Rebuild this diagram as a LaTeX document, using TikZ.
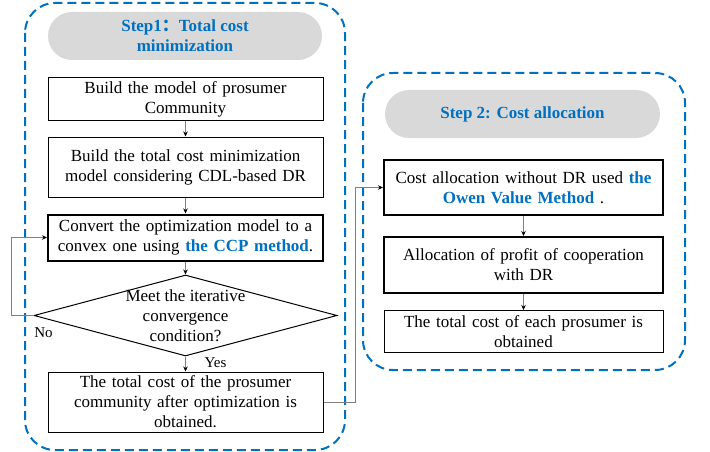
\documentclass[tikz,border=0pt]{standalone}
\usepackage{fontspec}
\setmainfont{Liberation Serif}
\newfontfamily\cjk{Noto Sans CJK SC}
\usepackage{xcolor}
\usetikzlibrary{shapes}
\usetikzlibrary{shapes.geometric}
\usetikzlibrary{arrows.meta}
\usetikzlibrary{positioning}

\definecolor{stepblue}{RGB}{0,112,192}
\definecolor{pillgray}{RGB}{217,217,217}
\newcommand{\bluebf}[1]{\textcolor{stepblue}{\textbf{#1}}}

\begin{document}
\begin{tikzpicture}[x=1pt, y=-1pt,
  font=\fontsize{17}{20}\selectfont,
  frame/.style={draw=stepblue, line width=2pt, dash pattern=on 9pt off 5pt, rounded corners=30pt},
  pill/.style={fill=pillgray, rounded corners=24pt, minimum height=48pt, text=stepblue,
    font=\fontsize{17}{20}\selectfont\bfseries, align=center},
  box/.style={draw, line width=1pt, minimum width=275pt, text width=270pt, align=center, inner sep=2pt},
  thickbox/.style={box, line width=2pt},
  link/.style={draw=gray, line width=0.8pt, -{Stealth[black,length=5pt,width=4.5pt]}},
  tag/.style={font=\fontsize{15}{18}\selectfont}]
  \useasboundingbox (0,0) rectangle (710,452);

  % step 1
  \draw[frame] (25,3) rectangle (345,450);
  \node[pill, minimum width=274pt] (s1) at (185,36) {Step1{\cjk ：}Total cost\\minimization};
  \node[box, minimum height=42pt] (b1) at (185.5,99) {Build the model of prosumer\\Community};
  \node[box, minimum height=60pt, below=16pt of b1] (b2) {Build the total cost minimization\\model considering CDL-based DR};
  \node[thickbox, minimum height=46pt, below=16pt of b2] (b3) {Convert the optimization model to a\\convex one using \bluebf{the CCP method}.};
  \node[diamond, draw, line width=1pt, minimum width=303pt, minimum height=81pt, inner sep=0pt] (dec) at (185.5,315.5) {};
  \node[align=center] (dectxt) at (dec) {Meet the iterative\\convergence\\condition?};
  \node[box, minimum height=60pt] (b4) at (185.5,402) {The total cost of the prosumer\\community after optimization is\\obtained.};

  % step 2
  \draw[frame] (363,73) rectangle (685,370);
  \node[pill, minimum width=275pt] (s2) at (522.5,114) {Step 2: Cost allocation};
  \node[thickbox, minimum width=279pt, minimum height=55pt] (b5) at (523.5,187.5) {Cost allocation without DR used \bluebf{the}\\\bluebf{Owen Value Method} .};
  \node[thickbox, minimum width=279pt, minimum height=56pt, below=20pt of b5] (b6) {Allocation of profit of cooperation\\with DR};
  \node[box, minimum width=279pt, minimum height=42pt, below=16pt of b6] (b7) {The total cost of each prosumer is\\obtained};

  \foreach \a/\b in {b1/b2, b2/b3, b3/dec, dec/b4, b5/b6, b6/b7} {
    \draw[link] (\a.south) -- (\b.north);
  }
  \draw[link] (dec.west) -- ++(-22,0) |- (b3.west);
  \draw[link] (b4.east) -- ++(32,0) |- (b5.west);

  \node[tag] (yes) at ([xshift=30pt,yshift=-6pt]dec.south) {Yes};
  \node[tag] (no) at ([xshift=10pt,yshift=-17pt]dec.west) {No};
\end{tikzpicture}
\end{document}
